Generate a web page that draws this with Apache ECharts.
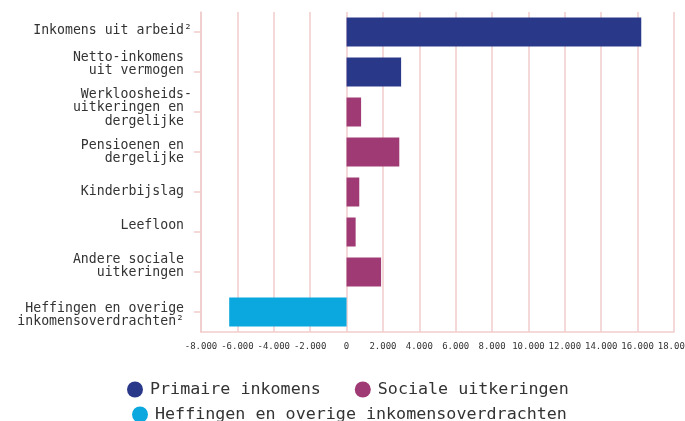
<!DOCTYPE html>
<html>
<head>
<meta charset="utf-8">
<script src="https://cdn.jsdelivr.net/npm/echarts@6/dist/echarts.min.js"></script>
<style>
  html, body { margin: 0; padding: 0; background: #fff; }
  #chart { width: 685px; height: 421px; }
</style>
</head>
<body>
<div id="chart"></div>
<script>
// categories top to bottom (line breaks as in the source labels)
const categories = [
  'Inkomens uit arbeid²',
  'Netto-inkomens \nuit vermogen ',
  'Werkloosheids-\nuitkeringen en \ndergelijke ',
  'Pensioenen en \ndergelijke ',
  'Kinderbijslag ',
  'Leefloon ',
  'Andere sociale \nuitkeringen ',
  'Heffingen en overige \ninkomensoverdrachten² '
]
const seriesNames = ['Primaire inkomens', 'Sociale uitkeringen', 'Heffingen en overige inkomensoverdrachten']
const primaire = [16200, 3000, '-', '-', '-', '-', '-', '-']
const sociale = ['-', '-', 800, 2900, 700, 500, 1900, '-']
const heffingen = ['-', '-', '-', '-', '-', '-', '-', -6450]
const colors = ['#2a388a', '#9f3a75', '#0aa8de']

// vertical nudge of each category label (px, negative = up), as placed in the original
const labelShift = [-1, -8, -4, 0, 0, -6, -6, 3]

const mono = '"DejaVu Sans Mono", "Liberation Mono", monospace'
const pink = '#f2cccc'

function fmt(v) {
  if (v === 0) return '0'
  const s = Math.abs(v).toString().replace(/\B(?=(\d{3})+(?!\d))/g, '.')
  return (v < 0 ? '-' : '') + s
}

// an empty line of height 2*|d| above or below the label moves it by d
const rich = {}
labelShift.forEach((d, i) => {
  if (d !== 0) rich['g' + i] = { height: 2 * Math.abs(d), lineHeight: 2 * Math.abs(d), fontSize: 1 }
})
function catLabel(value, index) {
  const d = labelShift[index]
  if (!d) return value
  return d < 0 ? value + '\n{g' + index + '|}' : '{g' + index + '|}\n' + value
}

const chart = echarts.init(document.getElementById('chart'))
const options = {
  animation: false,
  color: colors,
  grid: {
    left: 201,
    right: 11,
    top: 12,
    bottom: 89,
    containLabel: false,
    outerBoundsMode: 'none'
  },
  legend: [
    {
      data: seriesNames.slice(0, 2),
      left: 122,
      top: 376,
      icon: 'circle',
      itemWidth: 16,
      itemHeight: 16,
      itemGap: 34,
      textStyle: { fontFamily: mono, fontSize: 16.7, color: '#333', padding: [0, 0, 0, 2] }
    },
    {
      data: seriesNames.slice(2),
      left: 127,
      top: 401,
      icon: 'circle',
      itemWidth: 16,
      itemHeight: 16,
      textStyle: { fontFamily: mono, fontSize: 16.7, color: '#333', padding: [0, 0, 0, 2] }
    }
  ],
  xAxis: {
    type: 'value',
    min: -8000,
    max: 18000,
    interval: 2000,
    axisLine: { show: true, onZero: false, lineStyle: { color: pink, width: 1.5 } },
    axisTick: { show: false },
    splitLine: { show: true, lineStyle: { color: pink, width: 1.5 } },
    axisLabel: {
      fontFamily: mono,
      fontSize: 9,
      color: '#333',
      margin: 10,
      hideOverlap: false,
      formatter: fmt
    }
  },
  yAxis: {
    type: 'category',
    inverse: true,
    data: categories,
    axisLine: { show: true, onZero: false, lineStyle: { color: pink, width: 1.5 } },
    axisTick: { show: true, alignWithLabel: true, length: 7, lineStyle: { color: pink, width: 1.5 } },
    splitLine: { show: false },
    axisLabel: {
      fontFamily: mono,
      fontSize: 13.2,
      lineHeight: 13.5,
      color: '#333',
      margin: 9,
      align: 'right',
      formatter: catLabel,
      rich: rich
    }
  },
  series: [
    { name: seriesNames[0], type: 'bar', stack: 'all', barWidth: 29, data: primaire },
    { name: seriesNames[1], type: 'bar', stack: 'all', barWidth: 29, data: sociale },
    { name: seriesNames[2], type: 'bar', stack: 'all', barWidth: 29, data: heffingen }
  ]
}
chart.setOption(options)
window.addEventListener('resize', () => {
  chart.resize()
})
</script>
</body>
</html>
